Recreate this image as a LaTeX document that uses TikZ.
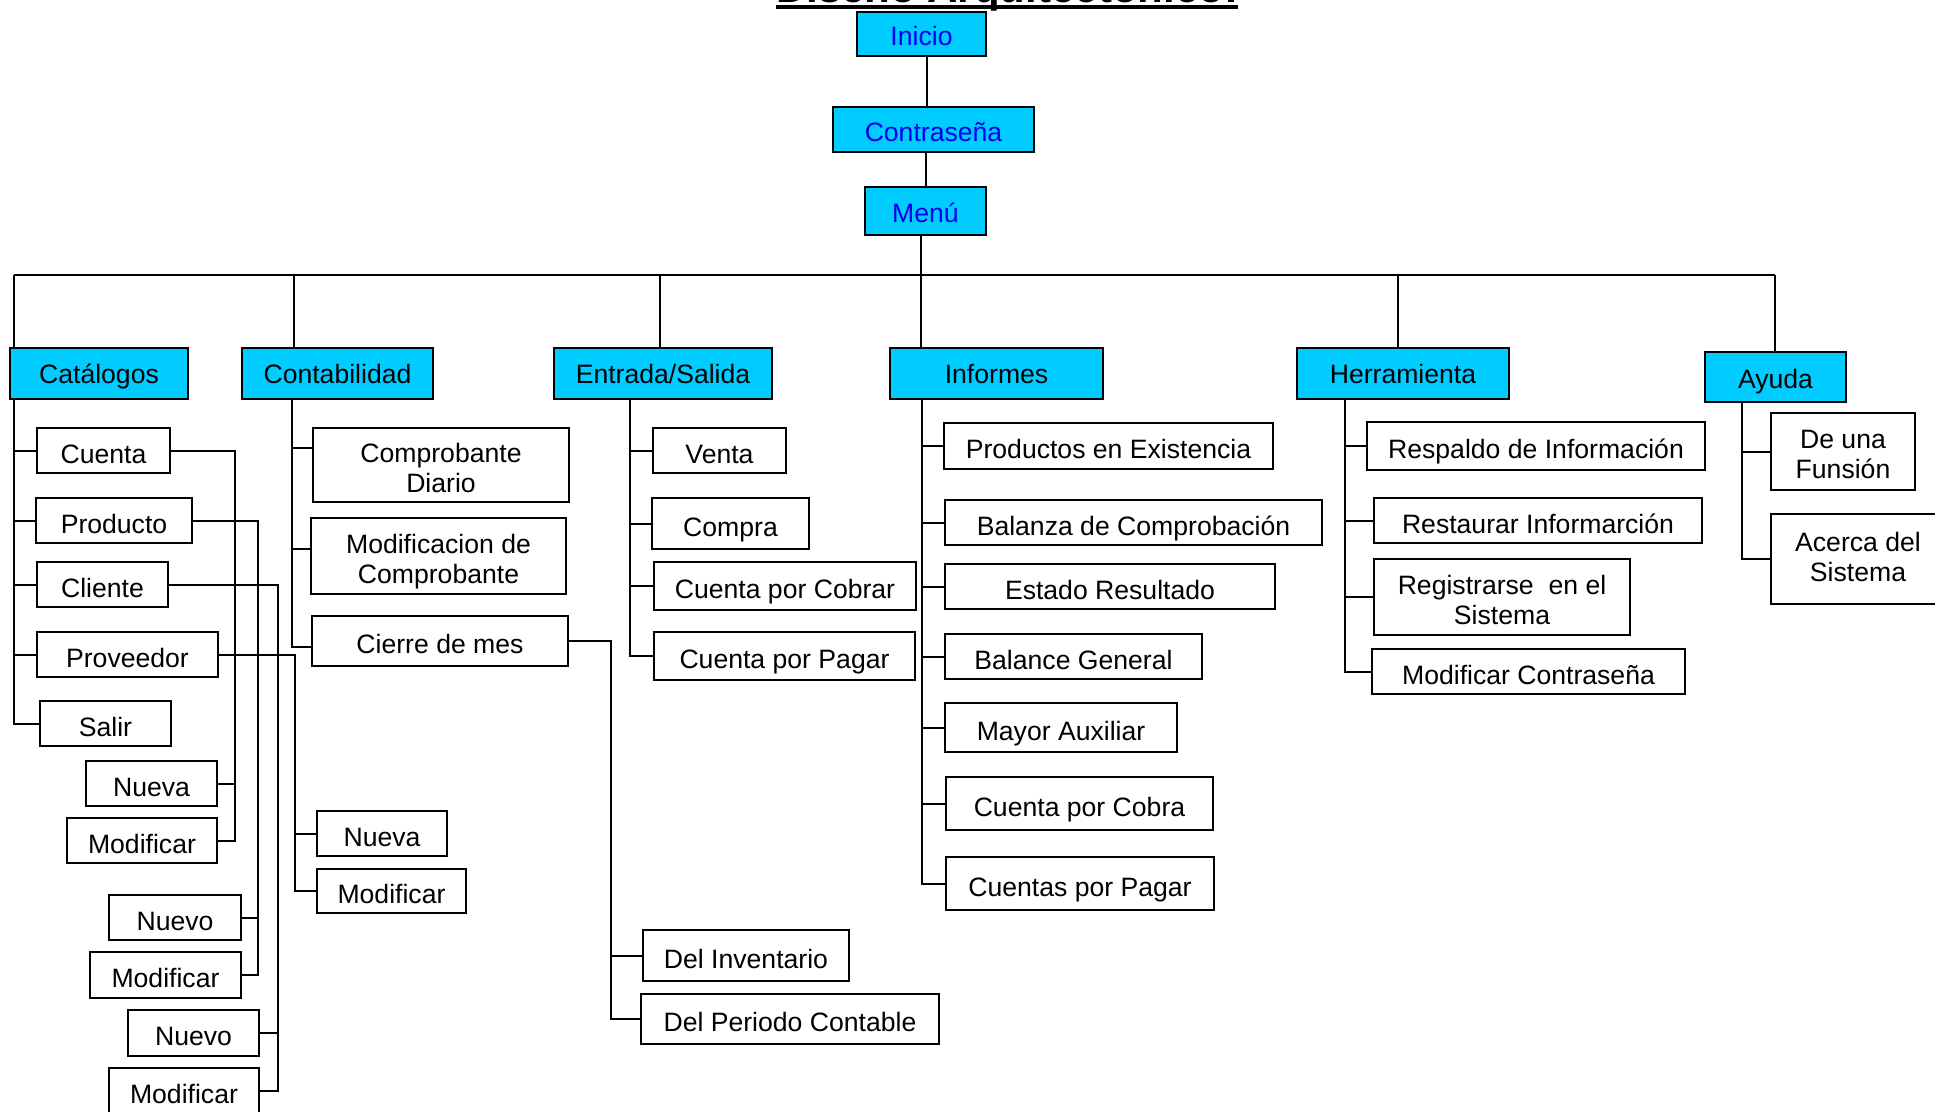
\documentclass[tikz,border=0pt]{standalone}
\usepackage{fontspec}
\setmainfont{Liberation Sans}
\usetikzlibrary{positioning}
\definecolor{menucyan}{RGB}{0,204,255}
\definecolor{menublue}{RGB}{0,0,240}

\begin{document}
\begin{tikzpicture}[
    x=1pt, y=-1pt,
    titulo/.style={inner sep=0, font=\bfseries\fontsize{42}{46}\selectfont},
    head/.style={rectangle, draw, line width=2.4, fill=menucyan, text=menublue, inner sep=0, text height=23, text depth=0, font=\fontsize{26.6}{30}\selectfont},
    mainbox/.style={rectangle, draw, line width=2.4, fill=menucyan, inner sep=0, text height=20, text depth=0, font=\fontsize{26.6}{30}\selectfont},
    item/.style={rectangle, draw, line width=2, fill=white, align=center, inner sep=0, text height=25, text depth=0, font=\fontsize{26.6}{30}\selectfont},
    twoline/.style={text height=54},
    box/.style 2 args={minimum width=#1, minimum height=#2},
    link/.style={line width=2},
    drop/.style={line width=1.3}
]
\useasboundingbox (0,0) rectangle (1935,1111);
\fill[white] (0,0) rectangle (1935,1111);

% Title (cut at the top of the page)
\node[titulo, anchor=base] (title) at (1007,2) {Diseño Arquitectónico:};
\draw[line width=4] ([yshift=-5]title.base west) -- ([yshift=-5]title.base east);

% Start sequence
\node[head, box={129}{44}] (inicio) at (921.5,34) {Inicio};
\node[head, box={201}{45}] (contra) at (933.5,129.5) {Contraseña};
\node[head, box={121}{48}] (menu) at (925.5,211) {Menú};

% Main menu
\node[mainbox, box={178}{51}] (catalogos) at (99,373.5) {Catálogos};
\node[mainbox, box={191}{51}] (contab) at (337.5,373.5) {Contabilidad};
\node[mainbox, box={218}{51}] (entrada) at (663,373.5) {Entrada/Salida};
\node[mainbox, box={213}{51}] (informes) at (996.5,373.5) {Informes};
\node[mainbox, box={212}{51}] (herram) at (1403,373.5) {Herramienta};
\node[mainbox, box={141}{50}, text height=22] (ayuda) at (1775.5,377) {Ayuda};

% Catalogos
\node[item, box={133}{45}] (cuenta) at (103.5,450.5) {Cuenta};
\node[item, box={156}{45}] (producto) at (114,520.5) {Producto};
\node[item, box={131}{45}] (cliente) at (102.5,584.5) {Cliente};
\node[item, box={181}{45}] (proveedor) at (127.5,654.5) {Proveedor};
\node[item, box={131}{45}] (salir) at (105.5,723.5) {Salir};

\node[item, box={131}{45}] (nuevaCta) at (151.5,783.5) {Nueva};
\node[item, box={150}{45}] (modCta) at (142,840.5) {Modificar};
\node[item, box={132}{45}] (nuevoPro) at (175,917.5) {Nuevo};
\node[item, box={151}{46}] (modPro) at (165.5,975) {Modificar};
\node[item, box={131}{46}] (nuevoCli) at (193.5,1033) {Nuevo};
\node[item, box={150}{46}] (modCli) at (184,1091) {Modificar};
\node[item, box={130}{45}] (nuevaProv) at (382,833.5) {Nueva};
\node[item, box={149}{44}] (modProv) at (391.5,891) {Modificar};

% Contabilidad
\node[item, twoline, box={256}{74}] (compDiario) at (441,465) {Comprobante\\Diario};
\node[item, twoline, box={255}{76}] (modComp) at (438.5,556) {Modificacion de\\Comprobante};
\node[item, box={256}{50}] (cierre) at (440,641) {Cierre de mes};
\node[item, box={206}{51}] (delInv) at (746,955.5) {Del Inventario};
\node[item, box={298}{50}] (delPer) at (790,1019) {Del Periodo Contable};

% Entrada/Salida
\node[item, box={133}{45}] (venta) at (719.5,450.5) {Venta};
\node[item, box={157}{51}] (compra) at (730.5,523.5) {Compra};
\node[item, box={262}{48}] (cxc) at (785,586) {Cuenta por Cobrar};
\node[item, box={261}{48}] (cxp) at (784.5,656) {Cuenta por Pagar};

% Informes
\node[item, box={329}{46}] (prodExist) at (1108.5,446) {Productos en Existencia};
\node[item, box={377}{45}] (balanza) at (1133.5,522.5) {Balanza de Comprobación};
\node[item, box={330}{45}] (estado) at (1110,586.5) {Estado Resultado};
\node[item, box={257}{45}] (balance) at (1073.5,656.5) {Balance General};
\node[item, box={232}{49}] (mayor) at (1061,727.5) {Mayor Auxiliar};
\node[item, box={267}{53}] (cxcInf) at (1079.5,803.5) {Cuenta por Cobra};
\node[item, box={268}{53}] (cxpInf) at (1080,883.5) {Cuentas por Pagar};

% Herramienta
\node[item, box={338}{48}] (respaldo) at (1536,446) {Respaldo de Información};
\node[item, box={328}{45}] (restaurar) at (1538,520.5) {Restaurar Informarción};
\node[item, twoline, box={256}{76}] (registro) at (1502,597) {Registrarse\ \ en el\\Sistema};
\node[item, box={313}{45}] (modContra) at (1528.5,671.5) {Modificar Contraseña};

% Ayuda
\node[item, twoline, box={144}{77}] (deUna) at (1843,451.5) {De una\\Funsión};
\node[item, twoline, text height=44, box={174}{90}] (acerca) at (1858,559) {Acerca del\\Sistema};

% Connections - start sequence
\coordinate (ic) at ([xshift=5.5]inicio.south);
\coordinate (mb) at ([xshift=-4.5]menu.south);
\draw[link] (ic) -- (ic |- contra.north);
\draw[link] (menu.north) -- (menu.north |- contra.south);
\draw[drop] (mb) -- (mb |- informes.north);

% Connections - menu bus
\coordinate (busL) at (14,275);
\coordinate (busR) at (1775,275);
\coordinate (dCont) at (294,275);
\coordinate (dES) at (660,275);
\coordinate (dHer) at (1398,275);
\draw[link] (busL) -- (busR);
\draw[drop] (busL) -- (busL |- catalogos.north);
\draw[drop] (dCont) -- (dCont |- contab.north);
\draw[drop] (dES) -- (dES |- entrada.north);
\draw[drop] (dHer) -- (dHer |- herram.north);
\draw[drop] (busR) -- (busR |- ayuda.north);

% Connections - Catalogos
\coordinate (tCat) at (14,399);
\draw[link] (tCat) |- (salir.west);
\foreach \c in {cuenta,producto,cliente,proveedor}
  \draw[link] (tCat |- \c.west) -- (\c.west);

\coordinate (tCta) at (235,0);
\draw[link] (cuenta.east) -| (tCta |- modCta.east) -- (modCta.east);
\draw[link] (nuevaCta.east) -- (tCta |- nuevaCta.east);
\coordinate (tPro) at (258,0);
\draw[link] (producto.east) -| (tPro |- modPro.east) -- (modPro.east);
\draw[link] (nuevoPro.east) -- (tPro |- nuevoPro.east);
\coordinate (tCli) at (278,0);
\draw[link] (cliente.east) -| (tCli |- modCli.east) -- (modCli.east);
\draw[link] (nuevoCli.east) -- (tCli |- nuevoCli.east);
\coordinate (tProv) at (295,0);
\draw[link] (proveedor.east) -| (tProv |- modProv.west) -- (modProv.west);
\draw[link] (tProv |- nuevaProv.west) -- (nuevaProv.west);

% Connections - Contabilidad
\coordinate (tCon) at (292,399);
\coordinate (cd) at ([yshift=17]compDiario.west);
\coordinate (mc) at ([yshift=7]modComp.west);
\coordinate (cm) at ([yshift=-6]cierre.west);
\draw[link] (tCon) |- (cm);
\draw[link] (cd -| tCon) -- (cd);
\draw[link] (mc -| tCon) -- (mc);
\coordinate (tCie) at (611,0);
\draw[link] (cierre.east) -| (tCie |- delPer.west) -- (delPer.west);
\draw[link] (tCie |- delInv.west) -- (delInv.west);

% Connections - Entrada/Salida
\coordinate (tES) at (630,399);
\draw[link] (tES) |- (cxp.west);
\foreach \c in {venta,compra,cxc}
  \draw[link] (tES |- \c.west) -- (\c.west);

% Connections - Informes
\coordinate (tInf) at (922,399);
\draw[link] (tInf) |- (cxpInf.west);
\foreach \c in {prodExist,balanza,estado,balance,mayor,cxcInf}
  \draw[link] (tInf |- \c.west) -- (\c.west);

% Connections - Herramienta
\coordinate (tHer) at (1345,399);
\draw[link] (tHer) |- (modContra.west);
\foreach \c in {respaldo,restaurar,registro}
  \draw[link] (tHer |- \c.west) -- (\c.west);

% Connections - Ayuda
\coordinate (tAyu) at (1742,402);
\draw[link] (tAyu) |- (acerca.west);
\draw[link] (tAyu |- deUna.west) -- (deUna.west);

\end{tikzpicture}
\end{document}
